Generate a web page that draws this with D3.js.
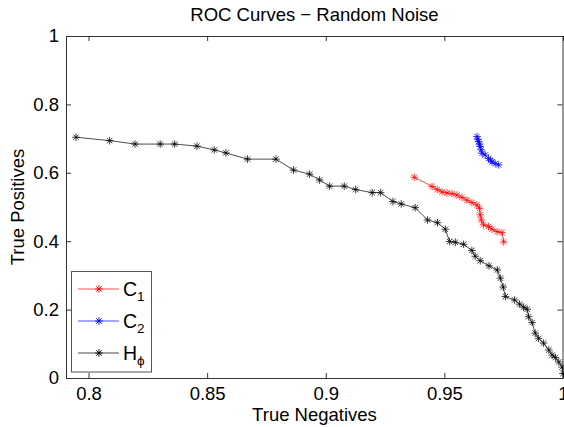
<!DOCTYPE html>
<html>
<head>
<meta charset="utf-8">
<script src="https://cdn.jsdelivr.net/npm/d3@7"></script>
<style>
  body { margin: 0; background: #fff; }
  text { font-family: "Liberation Sans", Arial, sans-serif; fill: #000; }
</style>
</head>
<body>
<div id="chart"></div>
<script>
// series: [true negatives, true positives]
const c1Points = [
  [0.9373, 0.587], [0.9448, 0.560], [0.9470, 0.551], [0.9490, 0.544], [0.9511, 0.541],
  [0.9532, 0.539], [0.9553, 0.535], [0.9574, 0.528], [0.9595, 0.520], [0.9616, 0.513],
  [0.9637, 0.506], [0.9648, 0.496], [0.9651, 0.477], [0.9656, 0.462], [0.9665, 0.448],
  [0.9686, 0.443], [0.9701, 0.435], [0.9722, 0.428], [0.9743, 0.425], [0.9750, 0.398]
];
const c2Points = [
  [0.9637, 0.706], [0.9641, 0.698], [0.9644, 0.691], [0.9648, 0.684], [0.9651, 0.677],
  [0.9655, 0.667], [0.9659, 0.657], [0.9672, 0.652], [0.9686, 0.642], [0.9694, 0.637],
  [0.9701, 0.632], [0.9714, 0.627], [0.9729, 0.623]
];
const hPoints = [
  [0.7947, 0.704], [0.8089, 0.694], [0.8196, 0.684], [0.8302, 0.684], [0.8363, 0.684],
  [0.8457, 0.678], [0.8530, 0.667], [0.8579, 0.658], [0.8670, 0.640], [0.8790, 0.640],
  [0.8864, 0.608], [0.8932, 0.596], [0.8974, 0.579], [0.9016, 0.561], [0.9078, 0.561],
  [0.9126, 0.551], [0.9196, 0.542], [0.9231, 0.542], [0.9283, 0.516], [0.9318, 0.509],
  [0.9377, 0.498], [0.9429, 0.462], [0.9471, 0.454], [0.9504, 0.435], [0.9522, 0.399],
  [0.9546, 0.397], [0.9581, 0.391], [0.9616, 0.373], [0.9630, 0.356], [0.9651, 0.343],
  [0.9688, 0.328], [0.9723, 0.316], [0.9736, 0.292], [0.9748, 0.266], [0.9757, 0.238],
  [0.9796, 0.228], [0.9817, 0.216], [0.9834, 0.207], [0.9849, 0.201], [0.9855, 0.179],
  [0.9870, 0.162], [0.9883, 0.131], [0.9897, 0.116], [0.9918, 0.102], [0.9940, 0.082],
  [0.9954, 0.067], [0.9968, 0.060], [0.9982, 0.047], [0.9996, 0.032], [1.0000, 0.013]
];
const xTicks = [0.8, 0.85, 0.9, 0.95, 1];
const yTicks = [0, 0.2, 0.4, 0.6, 0.8, 1];

const width = 564, height = 427;
const margin = { top: 36, right: 1, bottom: 49, left: 66 };

const svg = d3.select('#chart').append('svg')
  .attr('width', width)
  .attr('height', height);

const x = d3.scaleLinear().domain([0.7905, 1]).range([margin.left, width - margin.right]);
const y = d3.scaleLinear().domain([0, 1]).range([height - margin.bottom, margin.top]);

// title
svg.append('text')
  .attr('x', (x.range()[0] + x.range()[1]) / 2)
  .attr('y', 20.5)
  .attr('text-anchor', 'middle')
  .style('font-size', '18.5px')
  .text('ROC Curves \u2212 Random Noise');

// axes, ticks pointing inwards on all four sides
const tickLen = 5;
const fmt = d => d3.format('~g')(d);
svg.append('g')
  .attr('transform', `translate(0,${y(0)})`)
  .call(d3.axisBottom(x).tickValues(xTicks).tickSizeInner(-tickLen).tickSizeOuter(0).tickPadding(8.5).tickFormat(fmt))
  .call(g => g.selectAll('text').style('font-size', '18.5px').attr('fill', '#000'));
svg.append('g')
  .attr('transform', `translate(0,${y(1)})`)
  .call(d3.axisTop(x).tickValues(xTicks).tickSizeInner(-tickLen).tickSizeOuter(0).tickFormat(''));
svg.append('g')
  .attr('transform', `translate(${x.range()[0]},0)`)
  .call(d3.axisLeft(y).tickValues(yTicks).tickSizeInner(-tickLen).tickSizeOuter(0).tickPadding(7).tickFormat(fmt))
  .call(g => g.selectAll('text').style('font-size', '18.5px').attr('fill', '#000'));
svg.append('g')
  .attr('transform', `translate(${x(1) - 0.5},0)`)
  .call(d3.axisRight(y).tickValues(yTicks).tickSizeInner(-tickLen).tickSizeOuter(0).tickFormat(''));

svg.selectAll('.domain').attr('stroke', '#333');
svg.selectAll('.tick line').attr('stroke', '#333');

// axis labels
svg.append('text')
  .attr('x', (x.range()[0] + x.range()[1]) / 2)
  .attr('y', 420.5)
  .attr('text-anchor', 'middle')
  .style('font-size', '18.5px')
  .text('True Negatives');
svg.append('text')
  .attr('transform', `translate(24,${(y(0) + y(1)) / 2}) rotate(-90)`)
  .attr('text-anchor', 'middle')
  .style('font-size', '18.5px')
  .text('True Positives');

// asterisk marker like matlab '*'
const r = 3.8, d = r * 0.72;
const star = `M${-r},0H${r}M0,${-r}V${r}M${-d},${-d}L${d},${d}M${-d},${d}L${d},${-d}`;

const line = d3.line().x(p => x(p[0])).y(p => y(p[1]));
const series = [
  { pts: hPoints, color: '#000' },
  { pts: c1Points, color: '#ff0000' },
  { pts: c2Points, color: '#0000ff' }
];
series.forEach(s => {
  svg.append('path')
    .datum(s.pts)
    .attr('d', line)
    .attr('fill', 'none')
    .attr('stroke', s.color)
    .attr('stroke-width', 0.7);
  svg.append('g').selectAll('path')
    .data(s.pts)
    .enter().append('path')
    .attr('transform', p => `translate(${x(p[0])},${y(p[1])})`)
    .attr('d', star)
    .attr('fill', 'none')
    .attr('stroke', s.color)
    .attr('stroke-width', 0.9)
    .attr('opacity', 0.85);
});

// legend
const legend = svg.append('g');
legend.append('rect')
  .attr('x', 71.5).attr('y', 271.5)
  .attr('width', 80).attr('height', 100.5)
  .attr('fill', '#fff')
  .attr('stroke', '#555');
const entries = [
  { name: 'C', sub: '1', color: '#ff0000', yy: 289 },
  { name: 'C', sub: '2', color: '#0000ff', yy: 321 },
  { name: 'H', sub: '\u03d5', color: '#000', yy: 353 }
];
entries.forEach(e => {
  legend.append('line')
    .attr('x1', 78).attr('x2', 119)
    .attr('y1', e.yy).attr('y2', e.yy)
    .attr('stroke', e.color).attr('stroke-width', 0.7);
  legend.append('path')
    .attr('transform', `translate(99,${e.yy})`)
    .attr('d', star)
    .attr('fill', 'none')
    .attr('stroke', e.color)
    .attr('stroke-width', 0.9);
  const t = legend.append('text')
    .attr('x', 123)
    .attr('y', e.yy + 6.5)
    .style('font-size', '19.5px');
  t.append('tspan').text(e.name);
  t.append('tspan')
    .attr('dy', 5.5)
    .style('font-size', '13.5px')
    .text(e.sub);
});
</script>
</body>
</html>
